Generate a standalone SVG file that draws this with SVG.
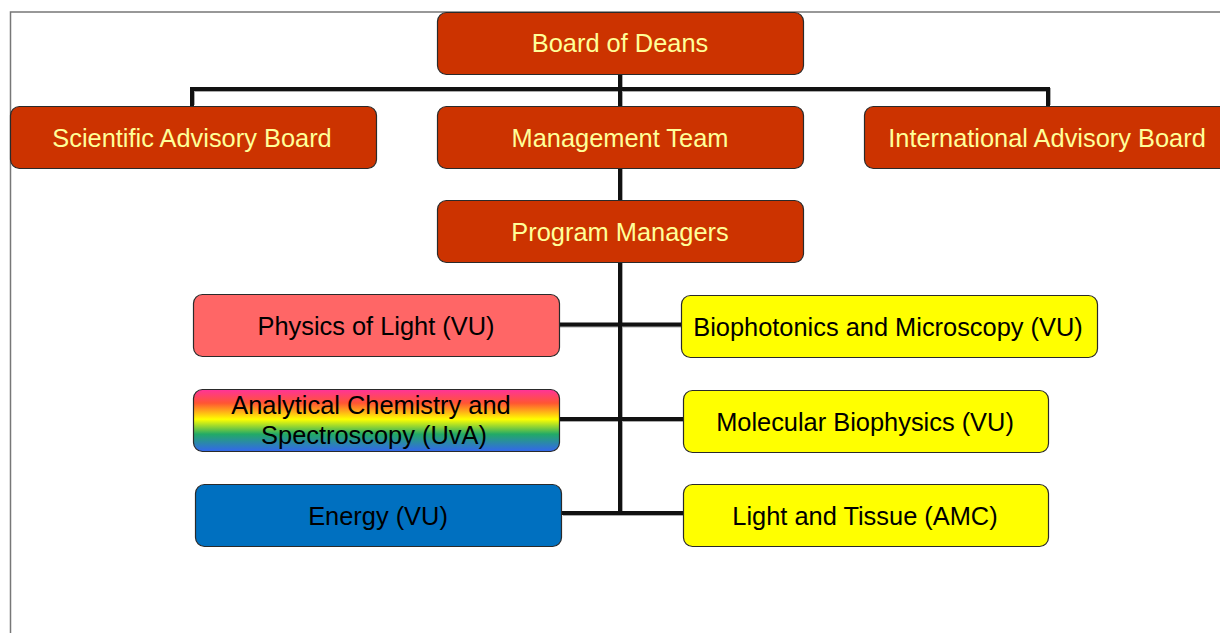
<svg xmlns="http://www.w3.org/2000/svg" width="1220" height="633" viewBox="0 0 1220 633">
  <defs>
    <linearGradient id="rainbow" x1="0" y1="0" x2="0" y2="1">
      <stop offset="0" stop-color="#FF3399"/>
      <stop offset="0.22" stop-color="#FF5533"/>
      <stop offset="0.48" stop-color="#FFFF00"/>
      <stop offset="0.72" stop-color="#22AA66"/>
      <stop offset="1" stop-color="#3366EE"/>
    </linearGradient>
    <style>
      .box { stroke: #2A2A2A; stroke-width: 1.2; }
      .red { fill: #CC3300; }
      .pink { fill: #FF6666; }
      .blue { fill: #0070C0; }
      .yellow { fill: #FFFF00; }
      .rainbow { fill: url(#rainbow); }
      text { font-family: "Liberation Sans", Arial, sans-serif; font-size: 25.4px; text-anchor: middle; }
      .light { fill: #FFFF99; }
      .dark { fill: #000000; }
      .wire { fill: none; stroke: #111111; stroke-width: 4; stroke-linejoin: miter; }
      .wire-shadow { fill: none; stroke: #AAAAAA; stroke-width: 4; }
      .frame { fill: none; stroke: #777777; stroke-width: 1.5; }
    </style>
  </defs>

  <rect width="1220" height="633" fill="#FFFFFF"/>
  <polyline class="frame" points="10.5,633 10.5,12 1220,12"/>

  <!-- connectors -->
  <g id="connectors">
    <g transform="translate(1,1)">
      <polyline class="wire-shadow" points="192,104 192,89 1048,89 1048,104"/>
      <line class="wire-shadow" x1="620" y1="74" x2="620" y2="106"/>
      <line class="wire-shadow" x1="620" y1="168" x2="620" y2="200"/>
      <line class="wire-shadow" x1="620" y1="262" x2="620" y2="514"/>
      <line class="wire-shadow" x1="559" y1="324.5" x2="681" y2="324.5"/>
      <line class="wire-shadow" x1="559" y1="419" x2="683" y2="419"/>
      <line class="wire-shadow" x1="562" y1="513" x2="683" y2="513"/>
    </g>
    <polyline class="wire" points="192,106 192,89 1048,89 1048,106"/>
    <line class="wire" x1="620" y1="74" x2="620" y2="106"/>
    <line class="wire" x1="620" y1="168" x2="620" y2="200"/>
    <line class="wire" x1="620" y1="262" x2="620" y2="515"/>
    <line class="wire" x1="559" y1="324.5" x2="681" y2="324.5"/>
    <line class="wire" x1="559" y1="419" x2="683" y2="419"/>
    <line class="wire" x1="562" y1="513" x2="683" y2="513"/>
  </g>

  <!-- governance -->
  <g id="board-of-deans">
    <rect class="box red" x="437.5" y="12.5" width="366" height="62" rx="9"/>
    <text class="light" x="620" y="52">Board of Deans</text>
  </g>
  <g id="scientific-advisory-board">
    <rect class="box red" x="10.5" y="106.5" width="366" height="62" rx="9"/>
    <text class="light" x="192" y="147">Scientific Advisory Board</text>
  </g>
  <g id="management-team">
    <rect class="box red" x="437.5" y="106.5" width="366" height="62" rx="9"/>
    <text class="light" x="620" y="147">Management Team</text>
  </g>
  <g id="international-advisory-board">
    <rect class="box red" x="864.5" y="106.5" width="366" height="62" rx="9"/>
    <text class="light" x="1047" y="147">International Advisory Board</text>
  </g>
  <g id="program-managers">
    <rect class="box red" x="437.5" y="200.5" width="366" height="62" rx="9"/>
    <text class="light" x="620" y="241">Program Managers</text>
  </g>

  <!-- programs -->
  <g id="physics-of-light">
    <rect class="box pink" x="193.5" y="294.5" width="366" height="62" rx="9"/>
    <text class="dark" x="376" y="335">Physics of Light (VU)</text>
  </g>
  <g id="analytical-chemistry">
    <rect class="box rainbow" x="193.5" y="389.5" width="366" height="62" rx="9"/>
    <text class="dark" x="371" y="414">Analytical Chemistry and</text>
    <text class="dark" x="374" y="444">Spectroscopy (UvA)</text>
  </g>
  <g id="energy">
    <rect class="box blue" x="195.5" y="484.5" width="366" height="62" rx="9"/>
    <text class="dark" x="378" y="525">Energy (VU)</text>
  </g>
  <g id="biophotonics">
    <rect class="box yellow" x="681.5" y="295.5" width="416" height="62" rx="9"/>
    <text class="dark" x="888" y="336">Biophotonics and Microscopy (VU)</text>
  </g>
  <g id="molecular-biophysics">
    <rect class="box yellow" x="683.5" y="390.5" width="365" height="62" rx="9"/>
    <text class="dark" x="865" y="431">Molecular Biophysics (VU)</text>
  </g>
  <g id="light-and-tissue">
    <rect class="box yellow" x="683.5" y="484.5" width="365" height="62" rx="9"/>
    <text class="dark" x="865" y="525">Light and Tissue (AMC)</text>
  </g>
</svg>
